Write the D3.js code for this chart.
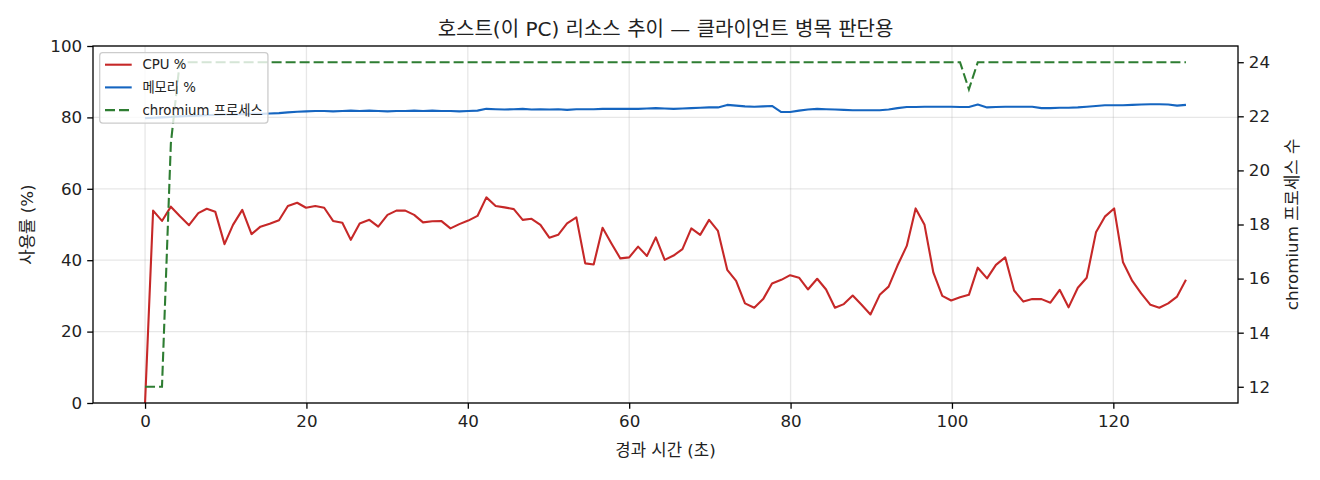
<!DOCTYPE html>
<html>
<head>
<meta charset="utf-8">
<script src="https://cdn.jsdelivr.net/npm/d3@7"></script>
<style>
  html, body { margin: 0; padding: 0; background: #fff; }
  svg text { font-family: "DejaVu Sans", "Noto Sans CJK KR", sans-serif; fill: #222; }
</style>
</head>
<body>
<svg id="chart" width="1320" height="480"></svg>
<script>
// ---------- data ----------
const times = [0, 1.0, 2.1, 3.2, 4.3, 5.45, 6.6, 7.65, 8.7, 9.85,
  10.9, 12.05, 13.2, 14.3, 15.45, 16.6, 17.7, 18.85, 19.95, 21.1,
  22.2, 23.3, 24.45, 25.5, 26.6, 27.8, 28.9, 30.05, 31.15, 32.25,
  33.35, 34.45, 35.6, 36.7, 37.85, 38.95, 40.05, 41.2, 42.3, 43.45,
  44.55, 45.7, 46.8, 47.9, 49.0, 50.1, 51.2, 52.3, 53.45, 54.55,
  55.6, 56.7, 57.8, 58.9, 60.0, 61.1, 62.2, 63.3, 64.4, 65.5,
  66.6, 67.7, 68.8, 69.9, 71.0, 72.15, 73.25, 74.35, 75.5, 76.6,
  77.7, 78.85, 79.95, 81.05, 82.15, 83.3, 84.4, 85.5, 86.6, 87.7,
  88.8, 89.9, 91.05, 92.15, 93.25, 94.4, 95.5, 96.6, 97.7, 98.8,
  99.9, 101.0, 102.1, 103.2, 104.35, 105.45, 106.6, 107.7, 108.85, 109.95,
  111.1, 112.2, 113.35, 114.45, 115.6, 116.7, 117.85, 118.95, 120.1, 121.2,
  122.35, 123.45, 124.6, 125.7, 126.8, 127.9, 129.0];

const cpu = [0, 53.9, 51.0, 55.0, 52.4, 49.8, 53.2, 54.4, 53.6, 44.5,
  49.9, 54.1, 47.3, 49.4, 50.2, 51.2, 55.2, 56.1, 54.7, 55.2,
  54.7, 51.0, 50.5, 45.7, 50.3, 51.3, 49.4, 52.7, 53.9, 53.9,
  52.7, 50.6, 50.9, 51.0, 48.9, 50.1, 51.1, 52.4, 57.6, 55.2,
  54.8, 54.3, 51.3, 51.6, 49.9, 46.3, 47.1, 50.3, 52.0, 39.1,
  38.8, 49.1, 44.7, 40.5, 40.8, 43.8, 41.2, 46.4, 40.1, 41.3,
  43.1, 48.9, 47.1, 51.3, 48.2, 37.3, 34.2, 27.9, 26.7, 29.1,
  33.5, 34.5, 35.8, 35.1, 31.8, 34.8, 31.8, 26.7, 27.7, 30.1,
  27.5, 24.8, 30.3, 32.6, 38.5, 44.0, 54.5, 49.9, 36.5, 30.0,
  28.7, 29.6, 30.3, 37.9, 34.9, 38.7, 40.8, 31.5, 28.4, 29.1,
  29.1, 28.1, 31.7, 26.8, 32.3, 35.1, 47.8, 52.2, 54.5, 39.4,
  34.2, 30.7, 27.5, 26.7, 27.9, 29.8, 34.5];

const memory = [79.8, 79.9, 80.0, 80.1, 80.3, 80.4, 80.5, 80.6, 80.7, 80.8,
  80.8, 80.9, 81.0, 81.0, 81.1, 81.2, 81.4, 81.6, 81.7, 81.8,
  81.8, 81.7, 81.8, 81.9, 81.8, 81.9, 81.8, 81.7, 81.8, 81.8,
  81.9, 81.8, 81.9, 81.8, 81.8, 81.7, 81.8, 81.9, 82.4, 82.3,
  82.2, 82.3, 82.4, 82.2, 82.3, 82.2, 82.3, 82.1, 82.3, 82.3,
  82.3, 82.4, 82.4, 82.4, 82.4, 82.4, 82.5, 82.6, 82.5, 82.4,
  82.5, 82.6, 82.7, 82.8, 82.8, 83.5, 83.3, 83.1, 83.0, 83.1,
  83.2, 81.5, 81.5, 81.9, 82.2, 82.4, 82.3, 82.2, 82.1, 82.0,
  82.0, 82.0, 82.0, 82.2, 82.6, 82.9, 82.9, 83.0, 83.0, 83.0,
  83.0, 82.9, 82.9, 83.6, 82.8, 82.9, 83.0, 83.0, 83.0, 83.0,
  82.6, 82.6, 82.7, 82.7, 82.8, 83.0, 83.2, 83.4, 83.4, 83.4,
  83.5, 83.6, 83.7, 83.7, 83.6, 83.3, 83.5];

const chromium = [12, 12, 12, 21, 24, 24, 24, 24, 24, 24,
  24, 24, 24, 24, 24, 24, 24, 24, 24, 24,
  24, 24, 24, 24, 24, 24, 24, 24, 24, 24,
  24, 24, 24, 24, 24, 24, 24, 24, 24, 24,
  24, 24, 24, 24, 24, 24, 24, 24, 24, 24,
  24, 24, 24, 24, 24, 24, 24, 24, 24, 24,
  24, 24, 24, 24, 24, 24, 24, 24, 24, 24,
  24, 24, 24, 24, 24, 24, 24, 24, 24, 24,
  24, 24, 24, 24, 24, 24, 24, 24, 24, 24,
  24, 24, 23, 24, 24, 24, 24, 24, 24, 24,
  24, 24, 24, 24, 24, 24, 24, 24, 24, 24,
  24, 24, 24, 24, 24, 24, 24];

const xTicks = [0, 20, 40, 60, 80, 100, 120];
const yLeftTicks = [0, 20, 40, 60, 80, 100];
const yRightTicks = [12, 14, 16, 18, 20, 22, 24];

const titleText = "호스트(이 PC) 리소스 추이 — 클라이언트 병목 판단용";
const xLabelText = "경과 시간 (초)";
const yLeftLabelText = "사용률 (%)";
const yRightLabelText = "chromium 프로세스 수";
const legendLabels = ["CPU %", "메모리 %", "chromium 프로세스"];

const colors = { cpu: "#c62828", mem: "#1565c0", chr: "#2e7d32" };

// ---------- layout ----------
const FONT = '"DejaVu Sans", "Noto Sans CJK KR", sans-serif';
const L = 93, R = 1238, T = 46, B = 403;
const svg = d3.select("#chart");
svg.append("rect").attr("width", 1320).attr("height", 480).attr("fill", "#fff");

const tMin = d3.min(times), tMax = d3.max(times), tPad = (tMax - tMin) * 0.05;
const x = d3.scaleLinear().domain([tMin - tPad, tMax + tPad]).range([L, R]);
const yL = d3.scaleLinear().domain([0, 100]).range([B, T]);
const cMin = d3.min(chromium), cMax = d3.max(chromium), cPad = (cMax - cMin) * 0.05;
const yR = d3.scaleLinear().domain([cMin - cPad, cMax + cPad]).range([B, T]);

svg.append("defs").append("clipPath").attr("id", "clip")
  .append("rect").attr("x", L).attr("y", T).attr("width", R - L).attr("height", B - T);

// grid
const grid = svg.append("g");
grid.selectAll("line.gx").data(xTicks).enter().append("line")
  .attr("x1", d => x(d)).attr("x2", d => x(d)).attr("y1", T).attr("y2", B)
  .attr("stroke", "#b0b0b0").attr("stroke-opacity", 0.3).attr("stroke-width", 1.3);
grid.selectAll("line.gy").data(yLeftTicks).enter().append("line")
  .attr("x1", L).attr("x2", R).attr("y1", d => yL(d)).attr("y2", d => yL(d))
  .attr("stroke", "#b0b0b0").attr("stroke-opacity", 0.3).attr("stroke-width", 1.3);

const idx = d3.range(times.length);
const lineCpu = d3.line().x(i => x(times[i])).y(i => yL(cpu[i]));
const lineMem = d3.line().x(i => x(times[i])).y(i => yL(memory[i]));
const lineChr = d3.line().x(i => x(times[i])).y(i => yR(chromium[i]));

const plot = svg.append("g").attr("clip-path", "url(#clip)");
plot.append("path").datum(idx).attr("d", lineCpu).attr("fill", "none")
  .attr("stroke", colors.cpu).attr("stroke-width", 2.1).attr("stroke-linejoin", "round");
plot.append("path").datum(idx).attr("d", lineMem).attr("fill", "none")
  .attr("stroke", colors.mem).attr("stroke-width", 2.1).attr("stroke-linejoin", "round");

// legend (belongs to left axes, so drawn under the chromium line)
const fsLeg = 13.3;
const leg = svg.append("g");
const legX = L + 6.7, legY = T + 6.7;
const rowH = 22.7;
const legBox = leg.append("rect").attr("x", legX).attr("y", legY).attr("rx", 3).attr("ry", 3)
  .attr("fill", "#fff").attr("fill-opacity", 0.8).attr("stroke", "#cccccc").attr("stroke-width", 1.3);
const legItems = [
  { label: legendLabels[0], color: colors.cpu, dash: null },
  { label: legendLabels[1], color: colors.mem, dash: null },
  { label: legendLabels[2], color: colors.chr, dash: "10,4" }
];
let maxW = 0;
legItems.forEach((it, k) => {
  const cy = legY + 12 + k * rowH;
  leg.append("line").attr("x1", legX + 5.3).attr("x2", legX + 5.3 + 26.7)
    .attr("y1", cy).attr("y2", cy).attr("stroke", it.color).attr("stroke-width", 2.1)
    .attr("stroke-dasharray", it.dash);
  const t = leg.append("text").attr("x", legX + 5.3 + 26.7 + 10.7).attr("y", cy)
    .attr("dy", "0.35em").attr("font-size", fsLeg).text(it.label);
  maxW = Math.max(maxW, t.node().getComputedTextLength());
});
legBox.attr("width", 5.3 + 26.7 + 10.7 + maxW + 5.3).attr("height", 12 + 2 * rowH + 12 + 1);

plot.append("path").datum(idx).attr("d", lineChr).attr("fill", "none")
  .attr("stroke", colors.chr).attr("stroke-width", 2.1).attr("stroke-dasharray", "10,4");

// spines
svg.append("rect").attr("x", L).attr("y", T).attr("width", R - L).attr("height", B - T)
  .attr("fill", "none").attr("stroke", "#000").attr("stroke-width", 1.3);

// axes
const fsTick = 16.7;
function styleAxis(g) {
  g.select(".domain").remove();
  g.selectAll(".tick line").attr("stroke", "#000").attr("stroke-width", 1.3);
  g.selectAll(".tick text").attr("font-size", fsTick).attr("fill", "#222")
    .attr("font-family", FONT);
}
svg.append("g").attr("transform", `translate(0,${B})`)
  .call(d3.axisBottom(x).tickValues(xTicks).tickSize(5.8).tickPadding(6).tickFormat(d3.format("d")))
  .call(styleAxis);
svg.append("g").attr("transform", `translate(${L},0)`)
  .call(d3.axisLeft(yL).tickValues(yLeftTicks).tickSize(5.8).tickPadding(5).tickFormat(d3.format("d")))
  .call(styleAxis);
svg.append("g").attr("transform", `translate(${R},0)`)
  .call(d3.axisRight(yR).tickValues(yRightTicks).tickSize(5.8).tickPadding(5).tickFormat(d3.format("d")))
  .call(styleAxis);

// labels
svg.append("text").attr("x", (L + R) / 2).attr("y", 36).attr("text-anchor", "middle")
  .attr("font-size", 20).text(titleText);
svg.append("text").attr("x", (L + R) / 2).attr("y", 456).attr("text-anchor", "middle")
  .attr("font-size", 16.7).text(xLabelText);
svg.append("text").attr("transform", `translate(33,${(T + B) / 2}) rotate(-90)`)
  .attr("text-anchor", "middle").attr("font-size", 16.7).text(yLeftLabelText);
svg.append("text").attr("transform", `translate(1298,${(T + B) / 2}) rotate(-90)`)
  .attr("text-anchor", "middle").attr("font-size", 16.7).text(yRightLabelText);
</script>
</body>
</html>
